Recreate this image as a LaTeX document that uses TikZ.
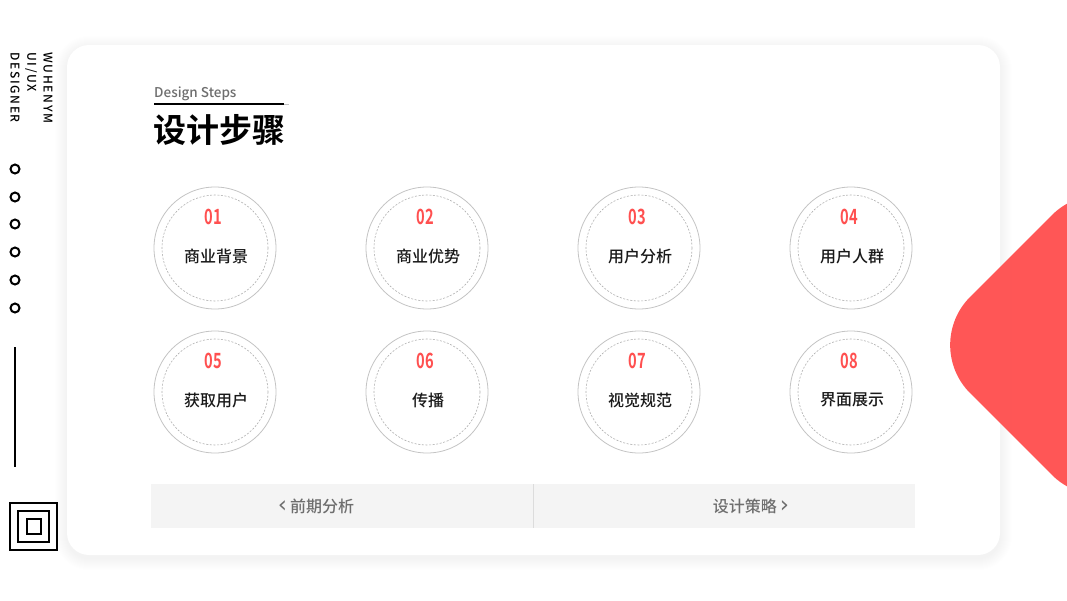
\documentclass[tikz,border=0pt]{standalone}
\usepackage{fontspec}
\setmainfont{Noto Sans CJK SC Medium}[BoldFont={Noto Sans CJK SC Bold}]
\newfontfamily\sidefont{Noto Sans CJK SC Medium}[LetterSpace=14]
\newfontfamily\numfont{Noto Sans CJK SC Bold}
\newfontfamily\symfont{DejaVu Sans}
\usetikzlibrary{calc, positioning}
\definecolor{mainRed}{HTML}{FF5050}
\definecolor{ringGray}{HTML}{C4C4C4}
\definecolor{barGray}{HTML}{F4F4F4}
\definecolor{textGray}{HTML}{6E6E6E}

\tikzset{
  sidetext/.style={rotate=-90, anchor=west, inner sep=0pt, font=\sidefont\fontsize{12}{12}\selectfont},
  sidedot/.style={line width=2pt},
  stepring/.style={circle, draw=ringGray, line width=0.8pt, minimum size=122pt, inner sep=0pt},
  stepdash/.style={draw=ringGray!90!black, line width=0.6pt, dash pattern=on 2pt off 1.6pt},
  stepnum/.style={text=mainRed, inner sep=0pt, xscale=0.7, transform shape, font=\numfont\fontsize{21}{21}\selectfont},
  steplabel/.style={text=black!90, inner sep=0pt, font=\fontsize{16}{16}\selectfont},
  navtext/.style={text=textGray, inner sep=0pt, font=\fontsize{16}{16}\selectfont}
}

\begin{document}
\begin{tikzpicture}[x=1pt, y=-1pt]
    \useasboundingbox (0,0) rectangle (1067,600);
    \fill[white] (0,0) rectangle (1067,600);

    % card with soft shadow
    \foreach \k in {1,...,12}
        \fill[black, opacity=0.004, rounded corners=22+\k] (67-\k,45-\k+3) rectangle (1000+\k,555+\k+3);
    \fill[white, rounded corners=22] (67,45) rectangle (1000,555);

    % red corner shape
    \fill[mainRed, opacity=0.96, rounded corners=68] (922,345) -- (1100,167) -- (1278,345) -- (1100,523) -- cycle;

    % side column
    \node[sidetext] (nm) at (48,52) {WUHENYM};
    \node[sidetext] (role) at (31,52) {UI/UX};
    \node[sidetext] (job) at (15,52) {DESIGNER};
    \foreach \y in {169,197,224,252,280,308}
        \draw[sidedot] (15,\y) circle (4.5);
    \draw[line width=2pt] (15,347) -- (15,467);
    \draw[line width=2.6pt] (10,503) rectangle (57,550);
    \draw[line width=2.2pt] (18,511) rectangle (49,542);
    \draw[line width=1.8pt] (27,519) rectangle (41,534);

    % heading
    \node[anchor=base west, inner sep=0pt, text=textGray, font=\fontsize{13.5}{13.5}\selectfont] (sub) at (154,97) {Design Steps};
    \draw[line width=2pt] (154,103.5) -- (284,103.5);
    \draw[ringGray, line width=1pt] (284,104) -- (289,104);
    \node[anchor=west, inner sep=0pt, font=\bfseries\fontsize{33}{33}\selectfont] (title) at (153,130) {设计步骤};

    % steps
    \foreach \n/\lab [count=\i from 0] in {01/商业背景, 02/商业优势, 03/用户分析, 04/用户人群,
                                           05/获取用户, 06/传播, 07/视觉规范, 08/界面展示} {
        \pgfmathsetmacro{\cx}{215+212*mod(\i,4)}
        \pgfmathsetmacro{\cy}{248+144*int(\i/4)}
        \node[stepring] (c\n) at (\cx,\cy) {};
        \draw[stepdash] (c\n.center) circle (53);
        \node[stepnum] (num\n) at (\cx-2,\cy-31) {\n};
        \node[steplabel] (lab\n) at (\cx+1,\cy+8) {\lab};
    }

    % bottom navigation
    \fill[barGray] (151,484) rectangle (915,528);
    \draw[ringGray!60, line width=0.8pt] (533,484) -- (533,528);
    \node[navtext] (prev) at (316,506) {{\symfont\fontsize{23}{23}\selectfont ‹}\kern3pt 前期分析};
    \node[navtext] (next) at (751,506) {设计策略\kern3pt{\symfont\fontsize{23}{23}\selectfont ›}};
\end{tikzpicture}
\end{document}
